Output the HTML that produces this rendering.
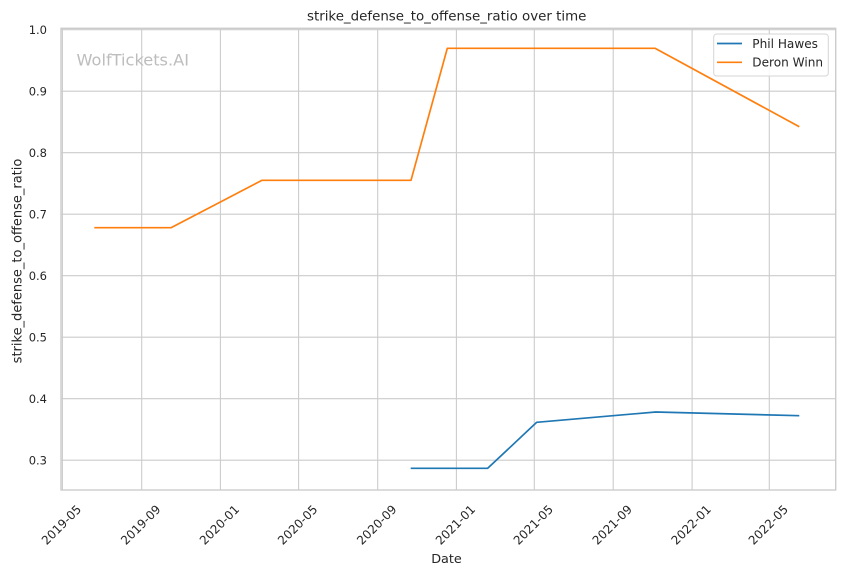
<!DOCTYPE html>
<html>
<head>
<meta charset="utf-8">
<style>
  html,body{margin:0;padding:0;background:#fff;}
  svg{display:block;}
  text{font-family:"DejaVu Sans","Liberation Sans",sans-serif;fill:#262626;}
</style>
</head>
<body>
<svg width="844" height="575" viewBox="0 0 844 575" xmlns="http://www.w3.org/2000/svg">
  <rect x="0" y="0" width="844" height="575" fill="#ffffff"/>
  <!-- grid -->
  <g stroke="#cccccc" stroke-width="1.1" fill="none">
    <line x1="62.4" y1="28.3" x2="62.4" y2="490"/>
    <line x1="141.7" y1="28.3" x2="141.7" y2="490"/>
    <line x1="220.4" y1="28.3" x2="220.4" y2="490"/>
    <line x1="298.6" y1="28.3" x2="298.6" y2="490"/>
    <line x1="377.7" y1="28.3" x2="377.7" y2="490"/>
    <line x1="456.4" y1="28.3" x2="456.4" y2="490"/>
    <line x1="534.3" y1="28.3" x2="534.3" y2="490"/>
    <line x1="613.2" y1="28.3" x2="613.2" y2="490"/>
    <line x1="692.1" y1="28.3" x2="692.1" y2="490"/>
    <line x1="769.3" y1="28.3" x2="769.3" y2="490"/>
    <line x1="61" y1="29.7" x2="835.7" y2="29.7"/>
    <line x1="61" y1="91.2" x2="835.7" y2="91.2"/>
    <line x1="61" y1="152.7" x2="835.7" y2="152.7"/>
    <line x1="61" y1="214.2" x2="835.7" y2="214.2"/>
    <line x1="61" y1="275.7" x2="835.7" y2="275.7"/>
    <line x1="61" y1="337.2" x2="835.7" y2="337.2"/>
    <line x1="61" y1="398.7" x2="835.7" y2="398.7"/>
    <line x1="61" y1="460.2" x2="835.7" y2="460.2"/>
  </g>
  <!-- spines -->
  <rect x="61" y="28.3" width="774.7" height="461.7" fill="none" stroke="#cccccc" stroke-width="1.4"/>

  <!-- watermark -->
  <text x="76.5" y="65.5" font-size="16.2" style="fill:#bdbdbd">WolfTickets.AI</text>

  <!-- series -->
  <polyline fill="none" stroke="#ff7f0e" stroke-width="1.7" stroke-linejoin="round"
    points="94.3,227.7 171,227.7 262,180.3 411,180.3 447.3,48.3 655,48.3 799.3,126.7"/>
  <polyline fill="none" stroke="#1f77b4" stroke-width="1.7" stroke-linejoin="round"
    points="410.7,468.3 487.7,468.3 536.7,422.3 655.7,412 799.3,415.7"/>

  <!-- y tick labels -->
  <g font-size="11.5" text-anchor="end">
    <text x="47" y="33.8">1.0</text>
    <text x="47" y="95.3">0.9</text>
    <text x="47" y="156.8">0.8</text>
    <text x="47" y="218.3">0.7</text>
    <text x="47" y="279.8">0.6</text>
    <text x="47" y="341.3">0.5</text>
    <text x="47" y="402.8">0.4</text>
    <text x="47" y="464.3">0.3</text>
  </g>

  <!-- x tick labels -->
  <g font-size="12" text-anchor="middle" dominant-baseline="central">
    <text transform="translate(61.5,525) rotate(-45)">2019-05</text>
    <text transform="translate(140.8,525) rotate(-45)">2019-09</text>
    <text transform="translate(219.5,525) rotate(-45)">2020-01</text>
    <text transform="translate(297.7,525) rotate(-45)">2020-05</text>
    <text transform="translate(376.8,525) rotate(-45)">2020-09</text>
    <text transform="translate(455.5,525) rotate(-45)">2021-01</text>
    <text transform="translate(533.4,525) rotate(-45)">2021-05</text>
    <text transform="translate(612.3,525) rotate(-45)">2021-09</text>
    <text transform="translate(691.2,525) rotate(-45)">2022-01</text>
    <text transform="translate(768.4,525) rotate(-45)">2022-05</text>
  </g>

  <!-- axis labels -->
  <text x="446.5" y="563" font-size="12.8" text-anchor="middle">Date</text>
  <text transform="translate(21.5,261) rotate(-90)" font-size="13" text-anchor="middle">strike_defense_to_offense_ratio</text>

  <!-- title -->
  <text x="446.7" y="20.5" font-size="13.4" text-anchor="middle">strike_defense_to_offense_ratio over time</text>

  <!-- legend -->
  <rect x="713.7" y="34" width="114.6" height="42" rx="3" ry="3" fill="#ffffff" fill-opacity="0.85" stroke="#d6d6d6" stroke-width="1"/>
  <line x1="717" y1="43.5" x2="742" y2="43.5" stroke="#1f77b4" stroke-width="1.7"/>
  <line x1="717" y1="62.3" x2="742" y2="62.3" stroke="#ff7f0e" stroke-width="1.7"/>
  <g font-size="12.1">
    <text x="752.3" y="47.8">Phil Hawes</text>
    <text x="752.3" y="66.6">Deron Winn</text>
  </g>
</svg>
</body>
</html>
